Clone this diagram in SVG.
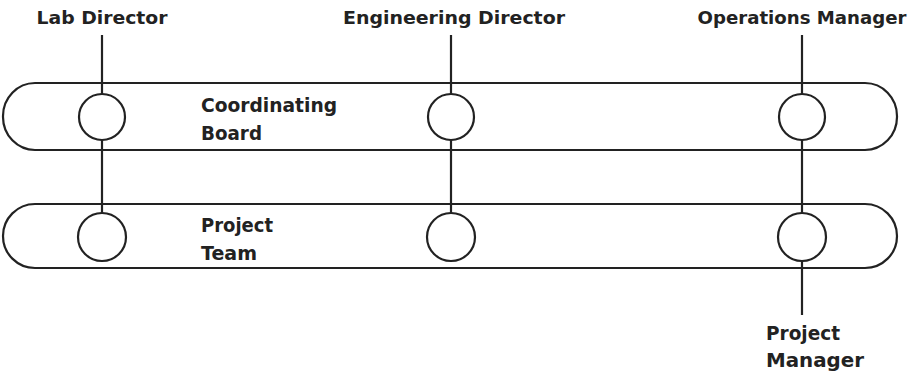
<svg xmlns="http://www.w3.org/2000/svg" width="912" height="372" viewBox="0 0 912 372">
<style>
.band{fill:none;stroke:#222;stroke-width:2.2}
.node{fill:#fff;stroke:#222;stroke-width:2.2}
.conn{stroke:#222;stroke-width:2.2;fill:none}
text{font-family:"DejaVu Sans","Liberation Sans",sans-serif;font-weight:bold;font-size:19px;fill:#222}
.t{font-size:18.5px;text-anchor:middle}
</style>
<rect width="912" height="372" fill="#fff"/>
<g id="coordinating-board">
<rect class="band" x="3" y="83" width="894" height="67" rx="32" ry="33"/>
<text x="201" y="112" textLength="136" lengthAdjust="spacingAndGlyphs">Coordinating</text>
<text x="201" y="140" textLength="61" lengthAdjust="spacingAndGlyphs">Board</text>
</g>
<g id="project-team">
<rect class="band" x="3" y="204" width="894" height="64" rx="32" ry="32"/>
<text x="201" y="232" textLength="72" lengthAdjust="spacingAndGlyphs">Project</text>
<text x="201" y="260" textLength="56" lengthAdjust="spacingAndGlyphs">Team</text>
</g>
<g id="lab-director">
<text class="t" x="102" y="24" textLength="131" lengthAdjust="spacingAndGlyphs">Lab Director</text>
<circle class="node" cx="102" cy="117" r="23"/>
<circle class="node" cx="102" cy="237" r="24"/>
</g>
<g id="engineering-director">
<text class="t" x="454" y="24" textLength="222" lengthAdjust="spacingAndGlyphs">Engineering Director</text>
<circle class="node" cx="451" cy="117" r="23"/>
<circle class="node" cx="451" cy="237" r="24"/>
</g>
<g id="operations-manager">
<text class="t" x="802" y="24" textLength="209" lengthAdjust="spacingAndGlyphs">Operations Manager</text>
<circle class="node" cx="802" cy="117" r="23"/>
<circle class="node" cx="802" cy="237" r="24"/>
</g>
<g id="project-manager">
<text x="766" y="340" textLength="74" lengthAdjust="spacingAndGlyphs">Project</text>
<text x="766" y="367" textLength="98" lengthAdjust="spacingAndGlyphs">Manager</text>
</g>
<g id="connectors">
<line class="conn" x1="102" y1="35" x2="102" y2="94"/>
<line class="conn" x1="102" y1="140" x2="102" y2="213"/>
<line class="conn" x1="451" y1="35" x2="451" y2="94"/>
<line class="conn" x1="451" y1="140" x2="451" y2="213"/>
<line class="conn" x1="802" y1="35" x2="802" y2="94"/>
<line class="conn" x1="802" y1="140" x2="802" y2="213"/>
<line class="conn" x1="802" y1="261" x2="802" y2="315"/>
</g>
</svg>
